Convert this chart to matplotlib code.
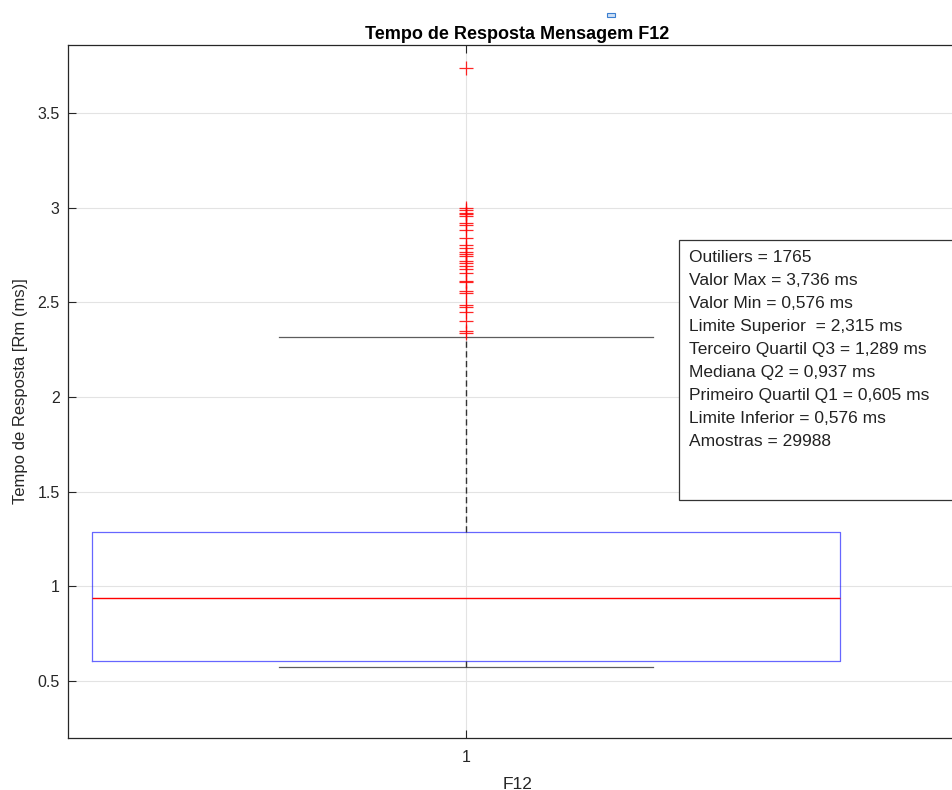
import matplotlib

matplotlib.use("Agg")
import matplotlib.pyplot as plt
from matplotlib.patches import Rectangle

plt.rcParams["font.family"] = ["Liberation Sans", "DejaVu Sans"]

# estatísticas do boxplot (ms)
categoria = "1"
q1 = 0.605
mediana = 0.937
q3 = 1.289
lim_inferior = 0.576
lim_superior = 2.315
outliers = [
    3.736, 2.997, 2.986, 2.975, 2.965, 2.954, 2.918, 2.910, 2.884, 2.838,
    2.806, 2.785, 2.764, 2.756, 2.743, 2.718, 2.708, 2.690, 2.676, 2.656,
    2.612, 2.606, 2.558, 2.550, 2.486, 2.476, 2.449, 2.403, 2.350, 2.340,
]
yticks = [0.5, 1, 1.5, 2, 2.5, 3, 3.5]
ytick_labels = ["0.5", "1", "1.5", "2", "2.5", "3", "3.5"]

linhas_info = [
    "Outiliers = 1765",
    "Valor Max = 3,736 ms",
    "Valor Min = 0,576 ms",
    "Limite Superior  = 2,315 ms",
    "Terceiro Quartil Q3 = 1,289 ms",
    "Mediana Q2 = 0,937 ms",
    "Primeiro Quartil Q1 = 0,605 ms",
    "Limite Inferior = 0,576 ms",
    "Amostras = 29988",
]

W, H = 952, 790
fig = plt.figure(figsize=(W / 100, H / 100), dpi=100)
ax = fig.add_axes([68 / W, 52 / H, (967 - 68) / W, (738 - 45) / H])

stats = [{
    "label": categoria,
    "med": mediana,
    "q1": q1,
    "q3": q3,
    "whislo": lim_inferior,
    "whishi": lim_superior,
    "fliers": outliers,
}]
ax.bxp(
    stats,
    positions=[1],
    widths=0.94,
    capwidths=0.47,
    boxprops=dict(color="blue", lw=0.9, alpha=0.6),
    medianprops=dict(color="red", lw=1.0),
    whiskerprops=dict(color="#333333", lw=1.0, linestyle=(0, (4.5, 2.5))),
    capprops=dict(color="#333333", lw=0.9, alpha=0.8),
    flierprops=dict(marker="+", markeredgecolor="red", markersize=10,
                    markeredgewidth=0.9, alpha=0.85, linestyle="none"),
)

ax.set_xlim(0.5, 0.5 + (967 - 68) / 796)
ax.set_ylim(0.199, 3.86)
ax.set_xticks([1])
ax.set_xticklabels([categoria])
ax.set_yticks(yticks)
ax.set_yticklabels(ytick_labels)
ax.grid(True, color="#e3e3e3", lw=0.8)
ax.set_axisbelow(True)
ax.tick_params(direction="in", length=6, width=0.8, colors="#262626",
               labelsize=11.5, top=True, right=False, pad=6)
ax.tick_params(axis="x", pad=9)
for lado in ("left", "bottom", "top"):
    ax.spines[lado].set_color("#262626")
    ax.spines[lado].set_linewidth(0.9)
ax.spines["right"].set_visible(False)

ax.set_title("Tempo de Resposta Mensagem F12", fontsize=13,
             fontweight="bold", pad=4, color="black")
ax.set_xlabel("F12", fontsize=12.5, color="#262626", labelpad=8)
ax.set_ylabel("Tempo de Resposta [Rm (ms)]", fontsize=12, color="#262626",
              labelpad=7)

# caixa de texto com o resumo
fig.patches.append(Rectangle((679 / W, (H - 500) / H), (960 - 679) / W,
                             (500 - 240) / H, transform=fig.transFigure,
                             facecolor="white", edgecolor="#333333", lw=0.9,
                             zorder=5))
for i, linha in enumerate(linhas_info):
    y_px = 258 + i * 22.9
    fig.text(689 / W, 1 - y_px / H, linha, fontsize=12.5, color="#222222",
             va="center", ha="left", zorder=6)

# marcador de seleção acima do título
fig.patches.append(Rectangle((607 / W, 1 - 17 / H), 8 / W, 4 / H,
                             transform=fig.transFigure, facecolor="#cfe0f5",
                             edgecolor="#3b7fd0", lw=0.8))

fig.savefig("out.png", dpi=100)
